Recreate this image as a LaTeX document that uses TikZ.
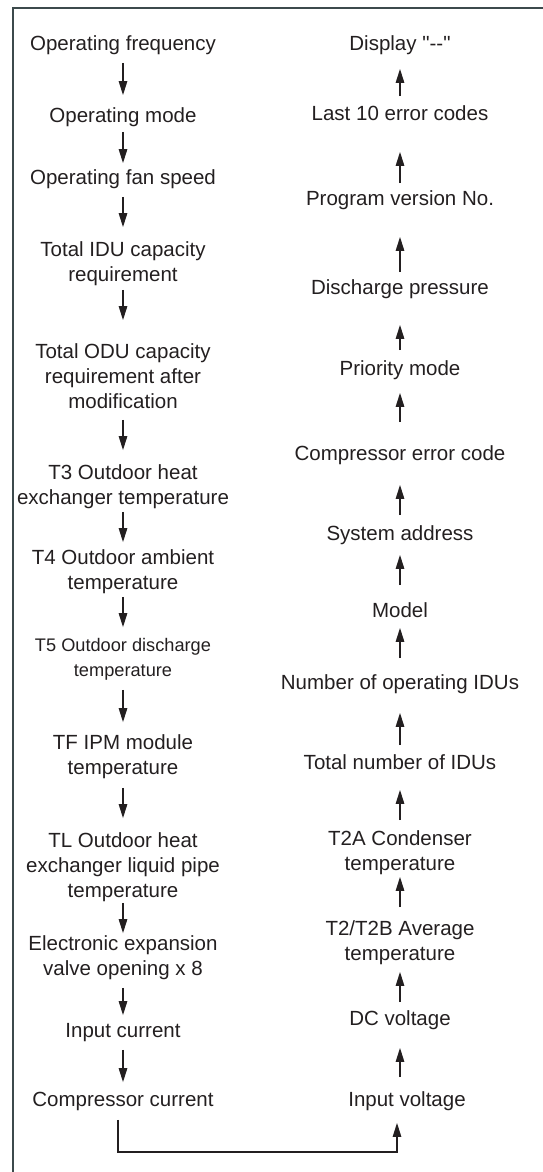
\documentclass[tikz,border=0pt]{standalone}
\usepackage{fontspec}
\setmainfont{Liberation Sans}[Ligatures=TeXOff]
\usetikzlibrary{arrows.meta}
\definecolor{txt}{HTML}{231F20}
\definecolor{framecol}{HTML}{3C4A4C}
\newcommand\st{\vphantom{Ofy}}
\begin{document}
\begin{tikzpicture}[x=1pt,y=-1pt,
  lbl/.style={text=txt, inner sep=0pt, outer sep=0pt, align=center,
    font=\fontsize{20.5}{25}\selectfont},
  lblsmall/.style={lbl, font=\fontsize{18.2}{25}\selectfont},
  arr/.style={draw=txt, line width=1.3pt, -{Triangle[length=14pt,width=8.5pt]}},
  framestyle/.style={draw=framecol, line width=2.4pt}]
\useasboundingbox (0,0) rectangle (543,1172);
\clip (0,0) rectangle (543,1172);
\draw[framestyle] (560,8.3) -- (12.7,8.3) -- (12.7,1190);

% left column
\node[lbl] (L1) at (123,45) {\st Operating frequency};
\node[lbl] (L2) at (123,117) {\st Operating mode};
\node[lbl] (L3) at (123,179) {\st Operating fan speed};
\node[lbl] (L4) at (123,263.5) {\st Total IDU capacity\\\st requirement};
\node[lbl] (L5) at (123,378) {\st Total ODU capacity\\\st requirement after\\\st modification};
\node[lbl] (L6) at (123,486.5) {\st T3 Outdoor heat\\\st exchanger temperature};
\node[lbl] (L7) at (123,571.5) {\st T4 Outdoor ambient\\\st temperature};
\node[lblsmall] (L8) at (123,659.3) {\st T5 Outdoor discharge\\\st temperature};
\node[lbl] (L9) at (123,756.5) {\st TF IPM module\\\st temperature};
\node[lbl] (L10) at (123,867) {\st TL Outdoor heat\\\st exchanger liquid pipe\\\st temperature};
\node[lbl] (L11) at (123,957.5) {\st Electronic expansion\\\st valve opening x 8};
\node[lbl] (L12) at (123,1032) {\st Input current};
\node[lbl] (L13) at (123,1101) {\st Compressor current};

% right column
\node[lbl] (R1) at (400,45) {\st Display "--"};
\node[lbl] (R2) at (400,115) {\st Last 10 error codes};
\node[lbl] (R3) at (400,200) {\st Program version No.};
\node[lbl] (R4) at (400,289) {\st Discharge pressure};
\node[lbl] (R5) at (400,370) {\st Priority mode};
\node[lbl] (R6) at (400,455) {\st Compressor error code};
\node[lbl] (R7) at (400,535) {\st System address};
\node[lbl] (R8) at (400,612) {\st Model};
\node[lbl] (R9) at (400,684) {\st Number of operating IDUs};
\node[lbl] (R10) at (400,764) {\st Total number of IDUs};
\node[lbl] (R11) at (400,852.5) {\st T2A Condenser\\\st temperature};
\node[lbl] (R12) at (400,942.5) {\st T2/T2B Average\\\st temperature};
\node[lbl] (R13) at (400,1020) {\st DC voltage};
\node[lbl] (R14) at (407,1101) {\st Input voltage};

% left arrows (downwards)
\draw[arr, shorten <=8.35pt, shorten >=12.35pt] (L1) -- (L2);
\draw[arr, shorten <=5.35pt, shorten >=6.35pt] (L2) -- (L3);
\draw[arr, shorten <=8.35pt, shorten >=14.35pt] (L3) -- (L4);
\draw[arr, shorten <=4.35pt, shorten >=23.35pt] (L4) -- (L5);
\draw[arr, shorten <=7.35pt, shorten >=14.35pt] (L5) -- (L6);
\draw[arr, shorten <=3.35pt, shorten >=7.35pt] (L6) -- (L7);
\draw[arr, shorten <=3.35pt, shorten >=11.2pt] (L7) -- (L8);
\draw[arr, shorten <=9.66pt, shorten >=12.35pt] (L8) -- (L9);
\draw[arr, shorten <=9.35pt, shorten >=14.35pt] (L9) -- (L10);
\draw[arr, shorten <=1.35pt, shorten >=2.35pt] (L10) -- (L11);
\draw[arr, shorten <=8.35pt, shorten >=7.35pt] (L11) -- (L12);
\draw[arr, shorten <=8.35pt, shorten >=9.35pt] (L12) -- (L13);

% right arrows (upwards)
\draw[arr, shorten <=9.35pt, shorten >=14.35pt] (R2) -- (R1);
\draw[arr, shorten <=7.35pt, shorten >=27.35pt] (R3) -- (R2);
\draw[arr, shorten <=7.35pt, shorten >=27.35pt] (R4) -- (R3);
\draw[arr, shorten <=10.35pt, shorten >=26.35pt] (R5) -- (R4);
\draw[arr, shorten <=23.35pt, shorten >=13.35pt] (R6) -- (R5);
\draw[arr, shorten <=10.35pt, shorten >=20.35pt] (R7) -- (R6);
\draw[arr, shorten <=17.35pt, shorten >=10.35pt] (R8) -- (R7);
\draw[arr, shorten <=16.35pt, shorten >=6.35pt] (R9) -- (R8);
\draw[arr, shorten <=9.35pt, shorten >=19.35pt] (R10) -- (R9);
\draw[arr, shorten <=10.35pt, shorten >=16.35pt] (R11) -- (R10);
\draw[arr, shorten <=13.35pt, shorten >=2.35pt] (R12) -- (R11);
\draw[arr, shorten <=8.35pt, shorten >=7.35pt] (R13) -- (R12);
\draw[arr, shorten <=14.35pt, shorten >=18.35pt] (R13.south |- R14.north) -- (R13.south);

% return connector
\draw[arr] ([xshift=-5pt,yshift=-9.35pt]L13.south) -- ++(0,32)
  -| ([xshift=-10pt,yshift=-12.35pt]R14.south);
\end{tikzpicture}
\end{document}
